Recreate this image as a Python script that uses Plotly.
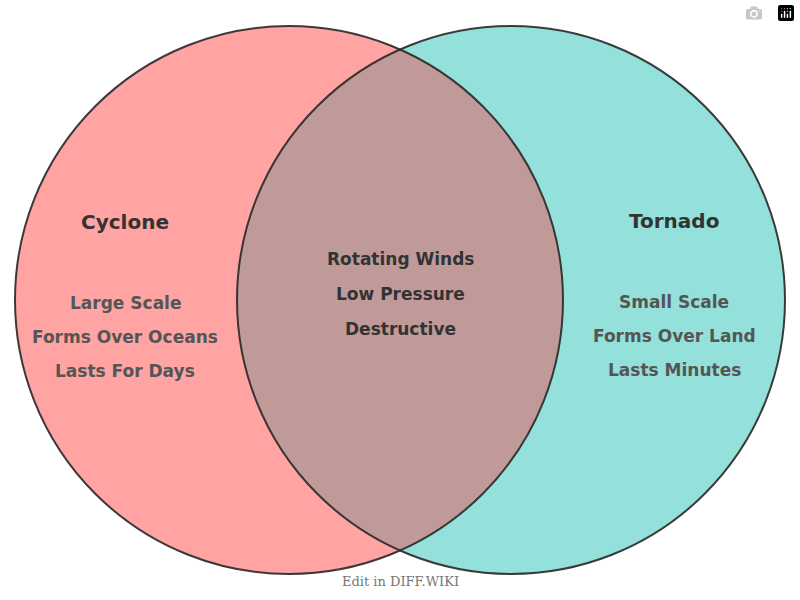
import numpy as np
import plotly.graph_objects as go

sets = ["Cyclone", "Tornado"]
left_items = ["Large Scale", "Forms Over Oceans", "Lasts For Days"]
right_items = ["Small Scale", "Forms Over Land", "Lasts Minutes"]
shared_items = ["Rotating Winds", "Low Pressure", "Destructive"]

R = 274
cl, cr, cy = 289, 511, 300

fig = go.Figure()
fig.update_xaxes(range=[0, 800], visible=False, fixedrange=True)
fig.update_yaxes(range=[600, 0], visible=False, fixedrange=True)
fig.update_layout(width=800, height=600, margin=dict(l=0, r=0, t=0, b=0),
                  plot_bgcolor="white", paper_bgcolor="white", showlegend=False)

def circ(cx, fill):
    fig.add_shape(type="circle", xref="x", yref="y", x0=cx-R, x1=cx+R, y0=cy-R, y1=cy+R,
                  fillcolor=fill, line=dict(width=0), layer="below")

circ(cl, "#ffa3a3")
circ(cr, "#94e0da")

d = (cr - cl) / 2
h = np.sqrt(R**2 - d**2)
a = np.arcsin(h / R)
t1 = np.linspace(-a, a, 60)
xs1 = cl + R*np.cos(t1); ys1 = cy + R*np.sin(t1)
t2 = np.linspace(np.pi + a, np.pi - a, 60)
xs2 = cr + R*np.cos(t2); ys2 = cy + R*np.sin(t2)
xs = np.concatenate([xs1, xs2]); ys = np.concatenate([ys1, ys2])
path = "M " + " L ".join(f"{x:.2f},{y:.2f}" for x, y in zip(xs, ys)) + " Z"
fig.add_shape(type="path", path=path, fillcolor="#c09a98", line=dict(width=0), layer="below")

for cx in (cl, cr):
    fig.add_shape(type="circle", x0=cx-R, x1=cx+R, y0=cy-R, y1=cy+R,
                  line=dict(color="rgba(40,40,40,0.9)", width=2))

font = "DejaVu Sans"
def txt(x, y, s, size, color, bold=True, fam=font):
    fig.add_annotation(x=x, y=y, text=f"<b>{s}</b>" if bold else s, showarrow=False,
                       font=dict(family=fam, size=size, color=color), xanchor="center", yanchor="middle")

txt(125, 222, sets[0], 20, "#333333")
txt(674, 221, sets[1], 20, "#333333")
for i, s in enumerate(left_items):
    txt(125, 303 + 34*i, s, 17, "#555555")
for i, s in enumerate(right_items):
    txt(674, 302 + 34*i, s, 17, "#555555")
for i, s in enumerate(shared_items):
    txt(400, 259 + 35*i, s, 17, "#333333")
txt(400, 581, "Edit in DIFF.WIKI", 13, "#777777", bold=False, fam="DejaVu Serif")

fig.write_html("out.html", post_script="document.body.style.margin='0';document.body.style.overflow='hidden';")
